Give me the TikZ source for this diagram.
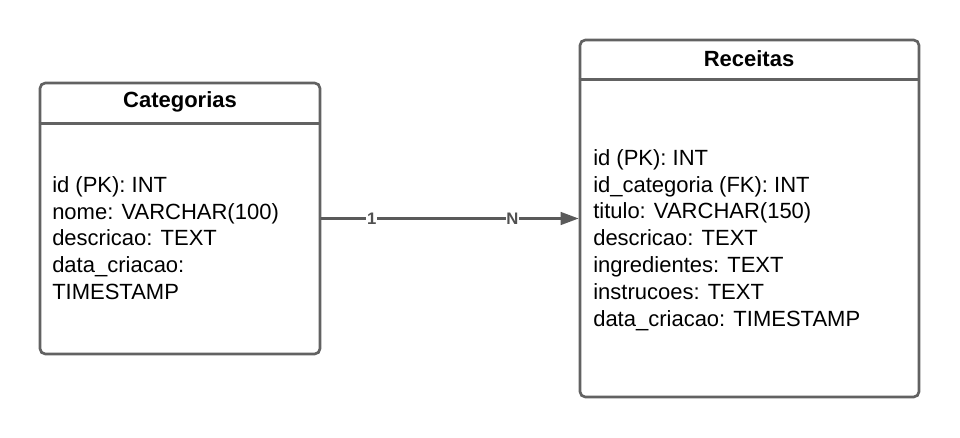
\documentclass[tikz,border=0pt]{standalone}
\usepackage{fontspec}
\setmainfont{Liberation Sans}
\usetikzlibrary{arrows.meta}
\usepackage{xcolor}

\begin{document}
\begin{tikzpicture}[x=0.75pt,y=0.75pt,yscale=-1,xscale=1]
\useasboundingbox (0,0) rectangle (960,438);

\tikzset{
  entity/.style={draw={rgb, 255:red, 98; green, 98; blue, 98}, line width=2pt, rounded corners=4pt, fill=white},
  entityline/.style={draw={rgb, 255:red, 98; green, 98; blue, 98}, line width=2pt},
  title/.style={inner sep=0.75pt, font=\fontsize{16.5}{20.25}\selectfont\bfseries},
  fields/.style={anchor=north west, inner sep=0pt, align=left, font=\fontsize{16.5}{20.1}\selectfont},
  card/.style={inner sep=0.5pt, fill=white, text={rgb, 255:red, 80; green, 80; blue, 80}, font=\fontsize{12.5}{14}\selectfont\bfseries}
}

%Shape: Rectangle [id:categorias]
\node [entity, minimum width=210pt, minimum height=203.25pt] (categorias) at (180,218.5) {};
\draw [entityline] ([yshift=31.5pt]categorias.north west) -- ([yshift=31.5pt]categorias.north east);
%Shape: Rectangle [id:receitas]
\node [entity, minimum width=254.25pt, minimum height=267.75pt] (receitas) at (749.5,218.5) {};
\draw [entityline] ([yshift=30.75pt]receitas.north west) -- ([yshift=30.75pt]receitas.north east);

%Straight Lines [id:relacao]
\draw [draw={rgb, 255:red, 90; green, 90; blue, 90}, line width=1.8pt, -{Triangle[length=13.5pt, width=9.5pt]}] (categorias.east) -- (receitas.west)
  node [card, pos=0.196] (um) {1}
  node [card, pos=0.742] (muitos) {N};

% Text Node
\draw (180,102) node [title] (categoriasTitulo) {Categorias};
% Text Node
\draw (749,59) node [title] (receitasTitulo) {Receitas};
% Text Node
\draw (52,176) node [fields] (categoriasCampos) {id (PK): INT\\nome: VARCHAR(100)\\descricao: TEXT\\data\_criacao:\\TIMESTAMP};
% Text Node
\draw (593,149) node [fields] (receitasCampos) {id (PK): INT\\id\_categoria (FK): INT\\titulo: VARCHAR(150)\\descricao: TEXT\\ingredientes: TEXT\\instrucoes: TEXT\\data\_criacao: TIMESTAMP};

\end{tikzpicture}
\end{document}
